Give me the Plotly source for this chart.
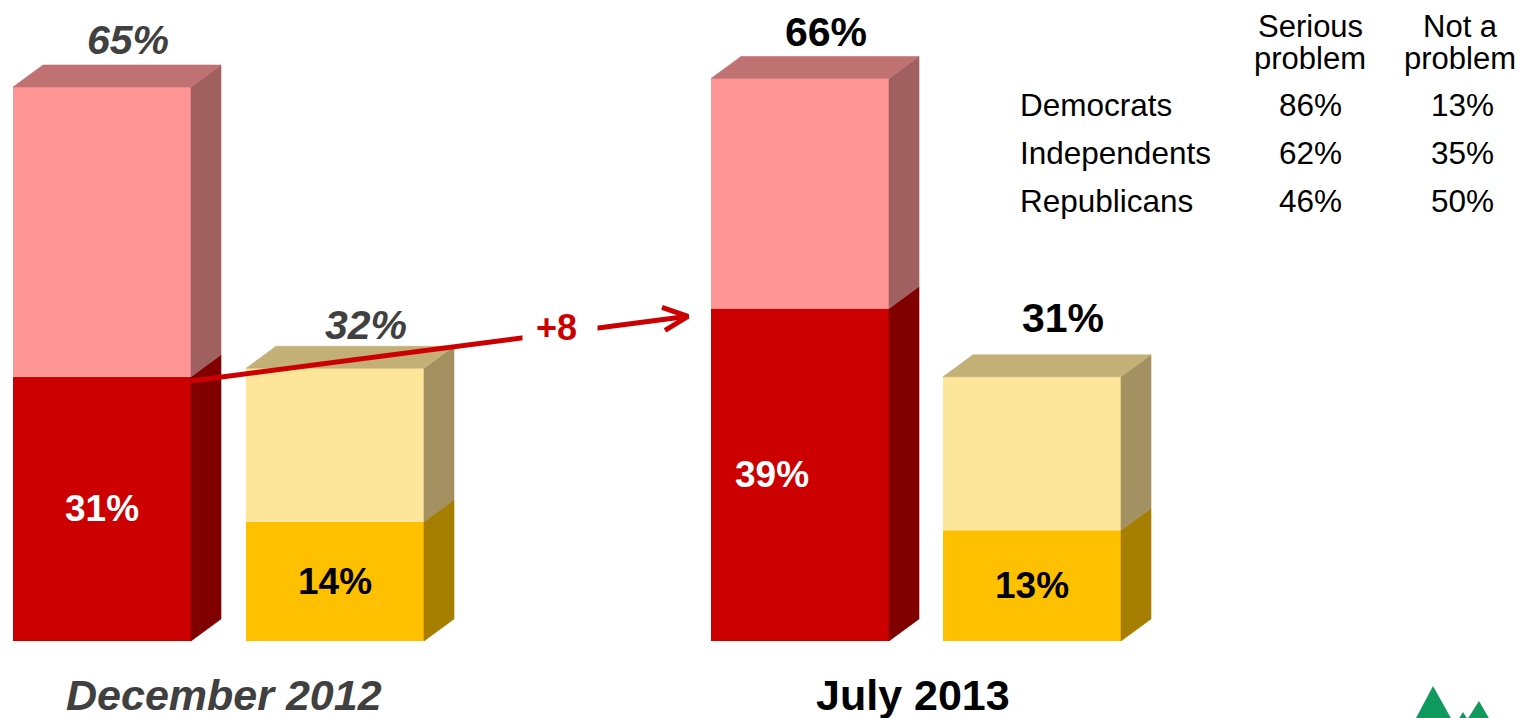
import plotly.graph_objects as go

# ---------------- data ----------------
dates = ["December 2012", "July 2013"]
very_serious = [31, 39]          # dark red segment
serious_total = [65, 66]         # total serious problem
not_at_all = [14, 13]            # gold segment
not_problem_total = [32, 31]     # total not a problem

parties = ["Democrats", "Independents", "Republicans"]
party_serious = [86, 62, 46]
party_not = [13, 35, 50]
table_headers = [["Serious", "problem"], ["Not a", "problem"]]

# ---------------- layout constants ----------------
PAGE_W, PAGE_H = 1536, 718
OFF = 8                          # default page body margin
W, H = PAGE_W - OFF, PAGE_H - OFF
BASE_PX = 641                    # baseline in page pixels
PX_PER_UNIT = 8.523
Y_MAX = (BASE_PX - OFF) / PX_PER_UNIT
Y_MIN = -(PAGE_H - BASE_PX) / PX_PER_UNIT

BAR_W = 178
DEPTH_X = 30
DEPTH_Y = 22 / PX_PER_UNIT

serious_centers = [102, 800]
notprob_centers = [335, 1032]
FONT = "Liberation Sans, Arial, sans-serif"

C = dict(
    red="#CC0000", red_side="#800000",
    pink="#FF9494", pink_side="#A16060", pink_top="#C07272",
    yel="#FDE699", yel_side="#A39162", yel_top="#C3B077",
    gold="#FFC000", gold_side="#A67E00",
)


def py(p):
    """page pixel row -> paper y"""
    return 1 - (p - OFF) / H


fig = go.Figure()


def segment(center, lo, hi, front, side, top=None):
    x0 = center - BAR_W / 2
    x1 = center + BAR_W / 2
    fig.add_trace(go.Bar(x=[center], y=[hi - lo], base=[lo], width=BAR_W,
                         marker=dict(color=front, line=dict(width=0)),
                         hoverinfo="skip"))
    fig.add_trace(go.Scatter(
        x=[x1, x1 + DEPTH_X, x1 + DEPTH_X, x1, x1],
        y=[lo, lo + DEPTH_Y, hi + DEPTH_Y, hi, lo],
        fill="toself", fillcolor=side, mode="lines",
        line=dict(width=0.6, color=side), hoverinfo="skip"))
    if top:
        fig.add_trace(go.Scatter(
            x=[x0, x0 + DEPTH_X, x1 + DEPTH_X, x1, x0],
            y=[hi, hi + DEPTH_Y, hi + DEPTH_Y, hi, hi],
            fill="toself", fillcolor=top, mode="lines",
            line=dict(width=0.6, color=top), hoverinfo="skip"))


for i in range(2):
    segment(serious_centers[i], 0, very_serious[i], C["red"], C["red_side"])
    segment(serious_centers[i], very_serious[i], serious_total[i], C["pink"], C["pink_side"], C["pink_top"])
    segment(notprob_centers[i], 0, not_at_all[i], C["gold"], C["gold_side"])
    segment(notprob_centers[i], not_at_all[i], not_problem_total[i], C["yel"], C["yel_side"], C["yel_top"])

# ---------------- change arrow ----------------
x_start = serious_centers[0] + BAR_W / 2
x_end = serious_centers[1] - BAR_W / 2 - 23
y_start = very_serious[0] - 0.5
y_end = very_serious[1] - 0.9
fig.add_trace(go.Scatter(x=[x_start, x_end], y=[y_start, y_end], mode="lines",
                         line=dict(color=C["red"], width=5), hoverinfo="skip"))
fig.add_trace(go.Scatter(
    x=[x_end - 26, x_end, x_end - 23],
    y=[y_end + 9 / PX_PER_UNIT, y_end, y_end - 14 / PX_PER_UNIT],
    mode="lines", line=dict(color=C["red"], width=5), hoverinfo="skip"))

annotations = []
change = very_serious[1] - very_serious[0]
y_mid = y_start + (y_end - y_start) * (560 - x_start) / (x_end - x_start)
# white gap in the line around the label
annotations.append(dict(x=560, y=y_mid, text="&nbsp;" * 19,
                        showarrow=False, bgcolor="white", borderpad=0,
                        font=dict(family=FONT, size=14, color="white")))
annotations.append(dict(x=556, y=y_mid, yshift=5,
                        text=f"<b>+{change}</b>",
                        showarrow=False, borderpad=0,
                        font=dict(family=FONT, size=36, color=C["red"])))

# ---------------- value labels ----------------
top_shift = [[25, 21], [24, 37]]
for i in range(2):
    if i == 0:
        fmt = "<b><i>{}%</i></b>"
        col = "#404040"
    else:
        fmt = "<b>{}%</b>"
        col = "black"
    annotations.append(dict(x=serious_centers[i] + 26, y=serious_total[i] + DEPTH_Y,
                            yshift=top_shift[i][0], text=fmt.format(serious_total[i]),
                            showarrow=False, yanchor="middle",
                            font=dict(family=FONT, size=41, color=col)))
    annotations.append(dict(x=notprob_centers[i] + 31, y=not_problem_total[i] + DEPTH_Y,
                            yshift=top_shift[i][1], text=fmt.format(not_problem_total[i]),
                            showarrow=False, yanchor="middle",
                            font=dict(family=FONT, size=41, color=col)))

inner_xshift = [[0, 0], [-28, 0]]
for i in range(2):
    annotations.append(dict(x=serious_centers[i], y=very_serious[i] / 2, xshift=inner_xshift[i][0],
                            text=f"<b>{very_serious[i]}%</b>", showarrow=False,
                            font=dict(family=FONT, size=37, color="white")))
    annotations.append(dict(x=notprob_centers[i], y=not_at_all[i] / 2, xshift=inner_xshift[i][1],
                            text=f"<b>{not_at_all[i]}%</b>", showarrow=False,
                            font=dict(family=FONT, size=37, color="black")))

# ---------------- date labels ----------------
for i, d in enumerate(dates):
    cx = (serious_centers[i] + notprob_centers[i]) / 2
    if i == 0:
        txt, col, xs = f"<b><i>{d}</i></b>", "#404040", 5
    else:
        txt, col, xs = f"<b>{d}</b>", "black", -3
    annotations.append(dict(x=cx, y=0, yshift=-54, xshift=xs, text=txt, showarrow=False,
                            yanchor="middle", font=dict(family=FONT, size=43, color=col)))

# ---------------- party table ----------------
TFS = 31.5
col_x = [1310, 1460]
row_py = [105, 153, 201]
head_py = [27, 58]
for j, hdr in enumerate(table_headers):
    for k, line in enumerate(hdr):
        annotations.append(dict(x=col_x[j], y=py(head_py[k]), yref="paper", text=line,
                                showarrow=False, yanchor="middle", xanchor="center",
                                borderpad=0,
                                font=dict(family=FONT, size=31, color="black")))
for r, p in enumerate(parties):
    yy = py(row_py[r])
    annotations.append(dict(x=1018, y=yy, yref="paper", text=p, showarrow=False,
                            xanchor="left", yanchor="middle",
                            font=dict(family=FONT, size=TFS, color="black")))
    annotations.append(dict(x=col_x[0], y=yy, yref="paper", text=f"{party_serious[r]}%",
                            showarrow=False, xanchor="center", yanchor="middle",
                            font=dict(family=FONT, size=TFS, color="black")))
    annotations.append(dict(x=col_x[1] + 2, y=yy, yref="paper", text=f"{party_not[r]}%",
                            showarrow=False, xanchor="center", yanchor="middle",
                            font=dict(family=FONT, size=TFS, color="black")))

# ---------------- logo (decorative trees) ----------------
green = "#10995C"
shapes = [
    dict(type="path", xref="x", yref="paper", fillcolor=green, line=dict(width=0),
         path=f"M 1415 {py(720)} L 1433 {py(686)} L 1452 {py(720)} Z"),
    dict(type="path", xref="x", yref="paper", fillcolor=green, line=dict(width=0),
         path=f"M 1467 {py(720)} L 1479 {py(701)} L 1490 {py(720)} Z"),
    dict(type="path", xref="x", yref="paper", fillcolor=green, line=dict(width=0),
         path=f"M 1458 {py(720)} L 1463 {py(712)} L 1468 {py(720)} Z"),
]

fig.update_layout(
    width=W, height=H,
    margin=dict(l=0, r=0, t=0, b=0),
    paper_bgcolor="white", plot_bgcolor="white",
    barmode="overlay", showlegend=False,
    xaxis=dict(range=[OFF, PAGE_W], visible=False, fixedrange=True),
    yaxis=dict(range=[Y_MIN, Y_MAX], visible=False, fixedrange=True),
    annotations=annotations,
    shapes=shapes,
)

fig.write_html("out.html")
